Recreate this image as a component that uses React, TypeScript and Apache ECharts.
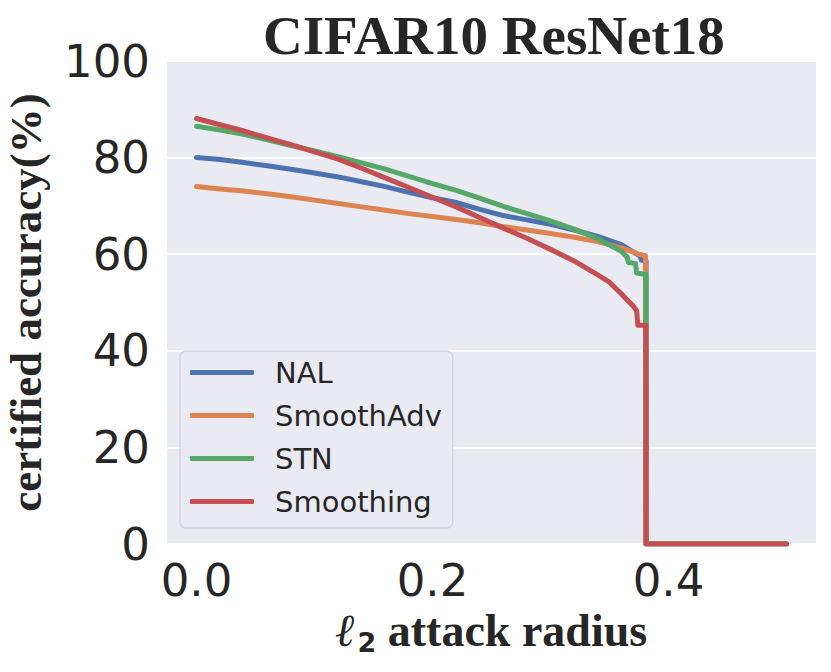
import React, { useEffect, useRef } from "react";
import * as echarts from "echarts";

const titleText = "CIFAR10 ResNet18";
const yAxisTitle = "certified accuracy(%)";
const seriesNames = ["NAL", "SmoothAdv", "STN", "Smoothing"];
const seriesColors = ["#4c72b0", "#dd8452", "#55a868", "#c44e52"];
const yTicks = [0, 20, 40, 60, 80, 100];
const xTickLabels = [0, 0.2, 0.4];

const nalRadius = [0, 0.02, 0.04, 0.06, 0.08, 0.1, 0.12, 0.14, 0.16, 0.18, 0.2, 0.22, 0.24, 0.26, 0.28, 0.3, 0.32, 0.34, 0.36, 0.37, 0.376, 0.377, 0.381, 0.3812, 0.5];
const nalAcc = [80.0, 79.6, 79.0, 78.3, 77.6, 76.8, 76.0, 75.0, 74.0, 72.8, 71.7, 70.7, 69.3, 68.0, 67.1, 66.2, 65.0, 63.7, 62.0, 60.5, 59.6, 58.8, 58.6, 0, 0];

const advRadius = [0, 0.02, 0.04, 0.06, 0.08, 0.1, 0.12, 0.14, 0.16, 0.18, 0.2, 0.22, 0.24, 0.26, 0.28, 0.3, 0.32, 0.34, 0.36, 0.37, 0.375, 0.3805, 0.3807, 0.5];
const advAcc = [74.0, 73.5, 73.1, 72.5, 71.9, 71.2, 70.5, 69.8, 69.1, 68.4, 67.8, 67.2, 66.5, 65.7, 65.0, 64.3, 63.5, 62.6, 61.3, 60.5, 60.0, 59.7, 0, 0];

const stnRadius = [0, 0.02, 0.04, 0.06, 0.08, 0.1, 0.12, 0.14, 0.16, 0.18, 0.2, 0.22, 0.24, 0.26, 0.28, 0.3, 0.32, 0.34, 0.35, 0.36, 0.365, 0.366, 0.372, 0.373, 0.3808, 0.381, 0.5];
const stnAcc = [86.5, 85.7, 84.8, 83.7, 82.5, 81.4, 80.2, 78.9, 77.6, 76.1, 74.6, 73.2, 71.6, 69.9, 68.4, 66.9, 65.2, 63.2, 61.9, 60.6, 59.4, 58.3, 58.1, 56.1, 55.8, 0, 0];

const smoRadius = [0, 0.02, 0.04, 0.06, 0.08, 0.1, 0.12, 0.14, 0.16, 0.18, 0.2, 0.22, 0.24, 0.26, 0.28, 0.3, 0.32, 0.34, 0.35, 0.36, 0.365, 0.37, 0.373, 0.374, 0.3808, 0.381, 0.5];
const smoAcc = [88.1, 86.8, 85.5, 84.1, 82.7, 81.2, 79.7, 77.8, 75.8, 73.8, 71.8, 69.8, 67.6, 65.4, 63.3, 61.0, 58.6, 55.7, 54.2, 51.8, 50.5, 49.3, 48.3, 45.3, 45.3, 0, 0];

const radii = [nalRadius, advRadius, stnRadius, smoRadius];
const accs = [nalAcc, advAcc, stnAcc, smoAcc];

const TEXT = "#262626";

export default function App() {
  const ref = useRef<HTMLDivElement>(null);
  useEffect(() => {
    document.body.style.margin = "0";
    if (!ref.current) return;
    const chart = echarts.init(ref.current, null, { renderer: "svg" });
    const series = seriesNames.map((name, i) => ({
      name,
      type: "line",
      data: radii[i].map((r, j) => [r, accs[i][j]]),
      showSymbol: false,
      symbol: "none",
      color: seriesColors[i],
      lineStyle: { width: 5, color: seriesColors[i], cap: "round", join: "round" },
      silent: true,
      emphasis: { disabled: true },
      clip: true,
    }));
    chart.setOption({
      animation: false,
      title: {
        text: titleText,
        left: 258,
        top: 3,
        textStyle: { fontFamily: "Liberation Serif", fontWeight: "bold", fontSize: 55, color: TEXT },
      },
      grid: {
        left: 167,
        top: 61,
        right: 15,
        bottom: 128,
        outerBoundsMode: "none",
        containLabel: false,
        show: true,
        backgroundColor: "#eaeaf2",
        borderWidth: 0,
      },
      legend: {
        data: seriesNames,
        orient: "vertical",
        left: 180,
        top: 351,
        icon: "roundRect",
        itemWidth: 64,
        itemHeight: 5,
        itemGap: 14,
        padding: [7, 11, 12, 10],
        backgroundColor: "#eaeaf2",
        borderColor: "#d2d2d8",
        borderWidth: 1.5,
        borderRadius: 6,
        textStyle: { fontFamily: "DejaVu Sans", fontSize: 29, color: TEXT, padding: [0, 0, 0, 16] },
      },
      xAxis: {
        type: "value",
        min: -0.025,
        max: 0.525,
        interval: 0.025,
        axisLine: { show: false },
        axisTick: { show: false },
        splitLine: { show: false },
        axisLabel: {
          fontFamily: "DejaVu Sans",
          fontSize: 45,
          color: TEXT,
          margin: 14,
          formatter: (v: number) => {
            for (const t of xTickLabels) {
              if (Math.abs(v - t) < 1e-6) return t.toFixed(1);
            }
            return "";
          },
        },
        name: "{l|ℓ}{s|2}{t| attack radius}",
        nameLocation: "middle",
        nameGap: 61,
        nameTextStyle: {
          color: TEXT,
          rich: {
            l: { fontFamily: "Liberation Serif", fontWeight: "bold", fontStyle: "italic", fontSize: 46, color: TEXT },
            s: { fontFamily: "DejaVu Sans", fontWeight: "bold", fontSize: 27, color: TEXT, padding: [24, 0, 0, 2] },
            t: { fontFamily: "Liberation Serif", fontWeight: "bold", fontSize: 46, color: TEXT },
          },
        },
      },
      yAxis: {
        type: "value",
        min: yTicks[0],
        max: yTicks[yTicks.length - 1],
        interval: 20,
        axisLine: { show: false },
        axisTick: { show: false },
        splitLine: { show: true, lineStyle: { color: "#ffffff", width: 2 } },
        axisLabel: { fontFamily: "DejaVu Sans", fontSize: 45, color: TEXT, margin: 17 },
        name: yAxisTitle,
        nameLocation: "middle",
        nameRotate: 90,
        nameGap: 119,
        nameTextStyle: { fontFamily: "Liberation Serif", fontWeight: "bold", fontSize: 45, color: TEXT },
      },
      series,
    });
    return () => chart.dispose();
  }, []);
  return <div ref={ref} style={{ width: 831, height: 672 }} />;
}
